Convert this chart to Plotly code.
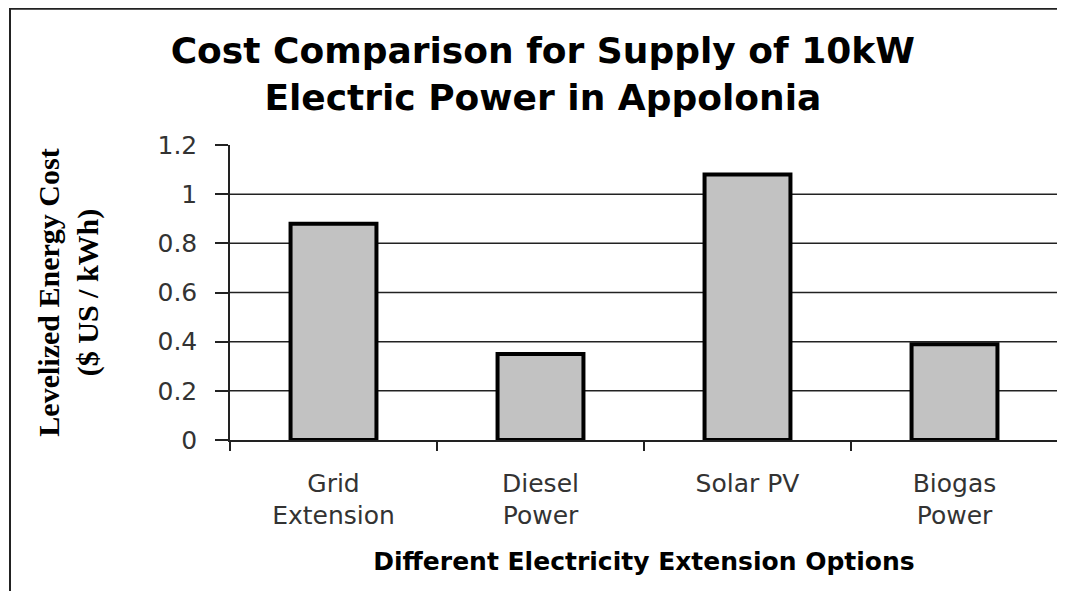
import plotly.graph_objects as go

categories = ["Grid<br>Extension", "Diesel<br>Power", "Solar PV", "Biogas<br>Power"]
costs = [0.88, 0.35, 1.08, 0.39]
y_ticks = [0, 0.2, 0.4, 0.6, 0.8, 1, 1.2]
y_tick_labels = ["0", "0.2", "0.4", "0.6", "0.8", "1", "1.2"]
grid_values = [0.2, 0.4, 0.6, 0.8, 1.0]

title_text = "Cost Comparison for Supply of 10kW<br>Electric Power in Appolonia"
x_title = "Different Electricity Extension Options"
y_title = "Levelized Energy Cost<br>($ US / kWh)"

W, H = 1057, 583

fig = go.Figure()
fig.add_trace(go.Bar(
    x=categories, y=costs,
    marker=dict(color="#c2c2c2", line=dict(color="#000000", width=4)),
    showlegend=False,
))

shapes = []
for g in grid_values:
    shapes.append(dict(type="line", xref="paper", yref="y", x0=0, x1=1, y0=g, y1=g,
                       line=dict(color="#222222", width=1.5), layer="below"))
# outer frame of the chart (left and top edges visible)
shapes.append(dict(type="rect", xref="paper", yref="paper",
                   x0=-0.2657, x1=1.2, y0=-1.0, y1=1.462,
                   line=dict(color="#222222", width=2), fillcolor="rgba(0,0,0,0)", layer="below"))

fig.update_layout(
    width=W, height=H,
    margin=dict(l=222, r=7, t=137, b=151),
    paper_bgcolor="white", plot_bgcolor="white",
    bargap=0.585,
    shapes=shapes,
    title=dict(text=title_text, x=0.506, xanchor="center", xref="container",
               y=1 - 55 / H, yanchor="top", yref="container",
               font=dict(family="DejaVu Sans", size=36, color="#000000", weight="bold")),
    xaxis=dict(
        showline=True, linecolor="#222222", linewidth=1.5,
        ticks="outside", tickson="boundaries", ticklen=9, tickcolor="#222222", tickwidth=1.5,
        tickfont=dict(family="DejaVu Sans", size=25, color="#333333"),
        ticklabelstandoff=20,
        title=dict(text=x_title, standoff=23,
                   font=dict(family="DejaVu Sans", size=25, color="#000000", weight="bold")),
        showgrid=False,
    ),
    yaxis=dict(
        range=[0, 1.2], tickvals=y_ticks, ticktext=y_tick_labels,
        showline=True, linecolor="#222222", linewidth=1.5,
        ticks="outside", ticklen=13, tickcolor="#222222", tickwidth=1.5,
        tickfont=dict(family="DejaVu Sans", size=25, color="#333333"),
        ticklabelstandoff=13,
        showgrid=False, zeroline=False,
        title=dict(text=y_title, standoff=50,
                   font=dict(family="Liberation Serif", size=30, color="#000000", weight="bold")),
    ),
)

fig.write_html("out.html")
